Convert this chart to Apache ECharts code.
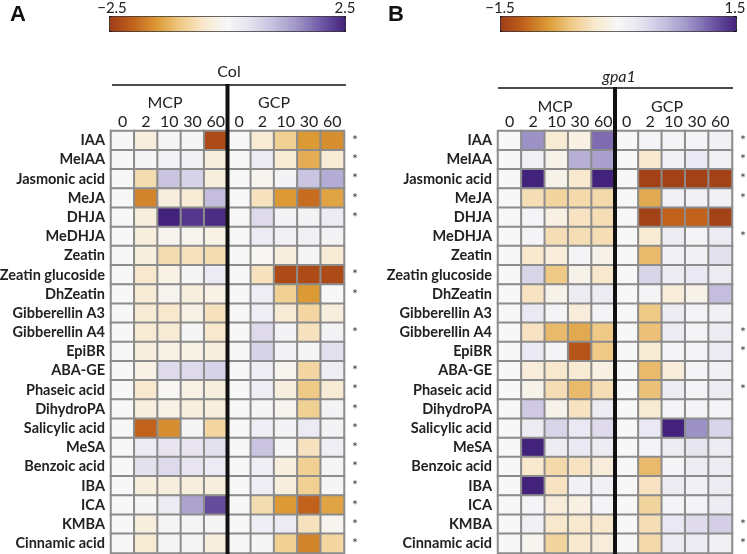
<!DOCTYPE html>
<html><head><meta charset="utf-8">
<script src="https://cdn.jsdelivr.net/npm/echarts@6/dist/echarts.min.js"></script>
<style>html,body{margin:0;padding:0;background:#fff}#c{width:747px;height:554px}</style>
</head><body><div id="c"></div>
<script>
const rows = ['IAA','MeIAA','Jasmonic acid','MeJA','DHJA','MeDHJA','Zeatin','Zeatin glucoside','DhZeatin','Gibberellin A3','Gibberellin A4','EpiBR','ABA-GE','Phaseic acid','DihydroPA','Salicylic acid','MeSA','Benzoic acid','IBA','ICA','KMBA','Cinnamic acid'];
const timeLabels = ['0','2','10','30','60','0','2','10','30','60'];
const scaleA = [-2.5, 2.5];
const scaleB = [-1.5, 1.5];
// Panel A (Col): MCP 0,2,10,30,60 | GCP 0,2,10,30,60
const valuesA = [
  [0,-0.3,0.05,0.05,-2.3, 0,-0.4,-0.9,-1.5,-1.6],
  [0,0.05,0.1,0.15,-0.3, 0,0.3,-0.4,-1.3,-0.4],
  [0,-0.7,0.9,0.7,-0.3, 0,-0.1,0.1,0.9,1.2],
  [0,-1.7,-0.3,-0.4,1.0, 0,-0.6,-1.5,-1.9,-1.4],
  [0,-0.3,2.5,2.3,2.4, 0,0.6,0.1,0.1,0.3],
  [0,-0.3,-0.1,-0.1,-0.2, 0,0.3,0.15,0.15,0.1],
  [0,-0.3,-0.7,-0.6,-0.7, 0,-0.05,-0.3,0.05,-0.4],
  [0,-0.5,-0.2,0.05,0.3, 0,-0.6,-2.3,-2.3,-2.3],
  [0,-0.4,-0.1,-0.3,-0.2, 0,0.2,-0.9,-1.5,0],
  [0,-0.4,-0.5,-0.2,-0.6, 0,0.2,-0.4,-0.8,-0.3],
  [0,-0.4,-0.4,0.05,-0.5, 0,0.6,0.1,-0.6,0.1],
  [0,-0.3,-0.2,-0.2,-0.3, 0,0.7,0.1,0.05,0.5],
  [0,-0.2,0.6,0.6,0.7, 0,0.2,-0.1,-0.8,0.2],
  [0,-0.5,-0.05,-0.2,-0.3, 0,0.2,-0.3,-1.0,-0.4],
  [0,-0.3,-0.2,-0.3,-0.3, 0,0.05,-0.1,-0.9,0.1],
  [0,-2.0,-1.6,0.05,-0.8, 0,0.2,0.1,0.3,0.1],
  [0,0.3,0.4,0.4,0.5, 0,0.9,0.05,-0.6,0.2],
  [0,0.5,0.6,0.4,0.3, 0,0.2,-0.3,-0.9,0.05],
  [0,-0.3,-0.3,-0.3,-0.3, 0,0.2,-0.3,-0.9,0.05],
  [0,0.05,0.3,1.3,2.1, 0,-0.7,-1.5,-2.0,-1.4],
  [0,-0.3,0.05,0.05,0.05, 0,0.2,0.3,-0.6,-0.1],
  [0,-0.4,0.05,0.05,-0.3, 0,0.05,-0.9,-1.7,-0.8]
];
// Panel B (gpa1)
const valuesB = [
  [0,0.9,-0.25,-0.15,1.1, 0,0.05,0.05,0.05,0.1],
  [0,0.1,-0.1,0.7,0.8, 0,-0.3,0.1,0.2,0.1],
  [0,1.5,-0.1,-0.3,1.5, 0,-1.45,-1.45,-1.45,-1.45],
  [0,-0.4,-0.5,-0.45,-0.45, 0,-0.8,0.1,0.1,0.1],
  [0,0.05,-0.15,-0.35,-0.4, 0,-1.45,-1.2,-1.2,-1.45],
  [0,0.05,-0.4,-0.4,-0.4, 0,-0.25,0.15,0.05,0.15],
  [0,-0.3,-0.2,0.05,-0.1, 0,-0.7,0.1,0.1,0.3],
  [0,0.4,-0.6,-0.1,-0.3, 0,0.4,0.15,0.2,0.15],
  [0,-0.35,-0.1,0.15,0.15, 0,0.05,-0.2,-0.1,0.6],
  [0,0.2,0.05,-0.2,0.05, 0,-0.6,0.15,0.05,0.1],
  [0,-0.35,-0.7,-0.8,-0.6, 0,-0.65,0.15,0.05,0.15],
  [0,0.2,0.05,-1.3,-0.6, 0,-0.25,0.05,0.05,0.15],
  [0,-0.2,-0.3,-0.25,-0.15, 0,-0.7,-0.2,0.05,0.1],
  [0,-0.1,-0.4,-0.7,-0.4, 0,-0.65,0.15,0.05,0.15],
  [0,0.5,-0.1,-0.35,0.15, 0,-0.25,0.05,0.05,0.05],
  [0,0.15,0.4,0.2,0.35, 0,0.2,1.5,0.9,0.4],
  [0,1.5,0.15,0.2,0.15, 0,0.05,0.15,0.25,0.15],
  [0,-0.3,-0.45,-0.35,-0.2, 0,-0.7,0.05,0.15,0.15],
  [0,1.5,-0.35,0.1,0.1, 0,-0.35,0.15,0.1,0.15],
  [0,0.05,-0.2,-0.15,0.05, 0,-0.5,0.05,0.05,0.15],
  [0,0.1,-0.3,-0.3,-0.3, 0,-0.4,0.2,0.35,0.45],
  [0,-0.05,-0.5,-0.3,-0.2, 0,-0.45,0.15,0.15,0.1]
];
const sigA = ['*','*','*','*','*','','','*','*','','*','','*','*','*','*','*','*','*','*','*','*'];
const sigB = ['*','*','*','*','','*','','','','','*','*','','*','','','','','','','*','*'];

const palette = ['#9e3c16','#c0621c','#dc9a35','#efca86','#f8e8cd','#f7f7f7','#e4e1ef','#c4bddd','#9d92c6','#6e57a5','#43227c'];
const FONT = 'Lato';
function toCells(vals){const d=[];vals.forEach((r,ri)=>r.forEach((v,ci)=>d.push([ci,ri,v])));return d;}

const G = [{left:111,top:131,width:233,height:422},{left:498,top:131,width:234,height:422}];
const sig = [sigA, sigB];
const grids = G.map(g=>({left:g.left,top:g.top,width:g.width,height:g.height,containLabel:false,outerBoundsMode:'none'}));
const xAxes = G.map((g,i)=>({gridIndex:i,type:'category',position:'top',data:timeLabels,
  axisLine:{show:false},axisTick:{show:false},splitLine:{show:false},
  axisLabel:{margin:1,fontFamily:FONT,fontSize:16,color:'#222',interval:0}}));
const yAxes = [];
G.forEach((g,i)=>{
  yAxes.push({gridIndex:i,type:'category',data:rows,inverse:true,
    axisLine:{show:false},axisTick:{show:false},splitLine:{show:false},
    axisLabel:{margin:6,fontFamily:FONT,fontWeight:'bold',fontSize:14.5,color:'#222',interval:0}});
  yAxes.push({gridIndex:i,type:'category',data:sig[i],inverse:true,position:'right',
    axisLine:{show:false},axisTick:{show:false},splitLine:{show:false},
    axisLabel:{margin:8,fontFamily:FONT,fontSize:14,color:'#444',interval:0,padding:[6,0,0,0]}});
});

const chart = echarts.init(document.getElementById('c'));
const vm = (idx,sc,left)=>({type:'continuous',seriesIndex:idx,min:sc[0],max:sc[1],orient:'horizontal',
  left:left,top:16,itemWidth:15,itemHeight:236,calculable:false,text:['',''],showLabel:false,
  padding:0,borderColor:'#000',borderWidth:1,inRange:{color:palette}});

function centerX(g){return g.left+g.width/2;}
const txt=(x,y,s,opt)=>Object.assign({type:'text',x:x,y:y,style:Object.assign({text:s,fontFamily:FONT,fontSize:16,fill:'#222',align:'center',verticalAlign:'middle'},opt||{})});
const graphics = [
  txt(18,15,'A',{fontFamily:'Liberation Sans',fontWeight:'bold',fontSize:22,fill:'#111'}),
  txt(396,15,'B',{fontFamily:'Liberation Sans',fontWeight:'bold',fontSize:22,fill:'#111'}),
  txt(112,8,'\u22122.5',{fontSize:15}), txt(345,8,'2.5',{fontSize:15}),
  txt(500,8,'\u22121.5',{fontSize:15}), txt(735,8,'1.5',{fontSize:15}),
  txt(229,72,'Col'), txt(165,103,'MCP'), txt(274,103,'GCP'),
  txt(619,77,'gpa1',{fontStyle:'italic'}), txt(555,107,'MCP'), txt(667,107,'GCP'),
  {type:'line',shape:{x1:112,y1:85,x2:346,y2:85},style:{stroke:'#111',lineWidth:1.5}},
  {type:'line',shape:{x1:498,y1:88,x2:733,y2:88},style:{stroke:'#111',lineWidth:1.5}},
  {type:'line',z:100,shape:{x1:centerX(G[0]),y1:84,x2:centerX(G[0]),y2:554},style:{stroke:'#111',lineWidth:4}},
  {type:'line',z:100,shape:{x1:centerX(G[1]),y1:87,x2:centerX(G[1]),y2:554},style:{stroke:'#111',lineWidth:4}}
];

chart.setOption({
  animation:false,
  backgroundColor:'#fff',
  grid:grids, xAxis:xAxes, yAxis:yAxes,
  visualMap:[vm(0,scaleA,109), vm(1,scaleB,500)],
  series:[
    {type:'heatmap',xAxisIndex:0,yAxisIndex:0,data:toCells(valuesA),itemStyle:{borderColor:'#8c8c8c',borderWidth:2},emphasis:{disabled:true}},
    {type:'heatmap',xAxisIndex:1,yAxisIndex:2,data:toCells(valuesB),itemStyle:{borderColor:'#8c8c8c',borderWidth:2},emphasis:{disabled:true}}
  ],
  graphic:graphics
});
</script></body></html>
